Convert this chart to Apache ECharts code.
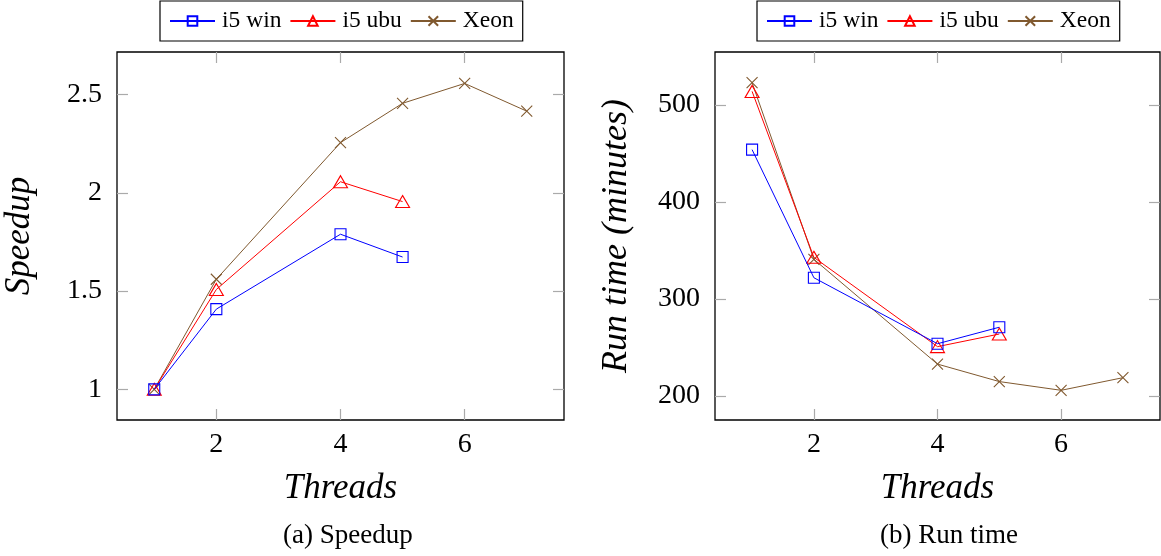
<!DOCTYPE html>
<html>
<head>
<meta charset="utf-8">
<script src="https://cdn.jsdelivr.net/npm/echarts@6/dist/echarts.min.js"></script>
<style>
html,body{margin:0;padding:0;background:#fff;}
#c{width:1161px;height:556px;}
</style>
</head>
<body>
<div id="c"></div>
<script>
var seriesNames = ['i5 win', 'i5 ubu', 'Xeon'];
var threadsI5 = [1, 2, 4, 5];
var threadsXeon = [1, 2, 4, 5, 6, 7];
var speedupI5win = [1.0, 1.408, 1.789, 1.673];
var speedupI5ubu = [1.0, 1.508, 2.056, 1.955];
var speedupXeon = [1.0, 1.56, 2.255, 2.455, 2.556, 2.415];
var runI5win = [454, 322, 254, 271];
var runI5ubu = [514, 343, 251, 264];
var runXeon = [523, 341, 233, 215, 206, 219];
var xTicks = [2, 4, 6];
var speedupTicks = [1, 1.5, 2, 2.5];
var runTicks = [200, 300, 400, 500];
var captions = ['(a) Speedup', '(b) Run time'];

var colors = ['#0000ff', '#ff0000', '#80592f'];
var symbols = ['rect', 'triangle', 'path://M0,0L10,10M10,0L0,10'];
var symSizes = [[11, 11], [14, 12], [11, 11]];
var FONT = '"Liberation Serif", "Times New Roman", serif';

function pairs(xs, ys) { return xs.map(function (x, i) { return [x, ys[i]]; }); }

function mkSeries(name, idx, axisIdx, data) {
  return {
    name: name, type: 'line', xAxisIndex: axisIdx * 2, yAxisIndex: axisIdx * 2,
    data: data, symbol: symbols[idx], symbolSize: symSizes[idx], showSymbol: true,
    lineStyle: { color: colors[idx], width: 1 },
    itemStyle: { color: 'rgba(0,0,0,0)', borderColor: colors[idx], borderWidth: 1.1 },
    emphasis: { disabled: true }, animation: false, z: 3 - idx
  };
}

function xAxes(gi) {
  var base = {
    gridIndex: gi, type: 'value', min: 0.4, max: 7.6,
    splitLine: { show: false }, axisLine: { show: false },
    axisTick: { inside: true, length: 11, lineStyle: { color: '#aaaaaa', width: 1.2 }, customValues: xTicks }
  };
  var bottom = Object.assign({}, base, {
    position: 'bottom', name: 'Threads', nameLocation: 'middle', nameGap: 51,
    nameTextStyle: { fontFamily: FONT, fontStyle: 'italic', fontSize: 35, color: '#000' },
    axisLabel: { customValues: xTicks, fontFamily: FONT, fontSize: 28, color: '#000', margin: 11 }
  });
  var top = Object.assign({}, base, { position: 'top', axisLabel: { show: false } });
  return [bottom, top];
}

function yAxes(gi, min, max, ticks, name, fs) {
  var base = {
    gridIndex: gi, type: 'value', min: min, max: max,
    splitLine: { show: false }, axisLine: { show: false },
    axisTick: { inside: true, length: 11, lineStyle: { color: '#aaaaaa', width: 1.2 }, customValues: ticks }
  };
  var left = Object.assign({}, base, {
    position: 'left', name: name, nameLocation: 'middle', nameGap: 80, nameRotate: 90,
    nameTextStyle: { fontFamily: FONT, fontStyle: 'italic', fontSize: fs, color: '#000' },
    axisLabel: { customValues: ticks, fontFamily: FONT, fontSize: 28, color: '#000', margin: 15 }
  });
  var right = Object.assign({}, base, { position: 'right', axisLabel: { show: false } });
  return [left, right];
}

function legend(left) {
  return {
    data: seriesNames, left: left, top: 1, orient: 'horizontal',
    itemWidth: 45, itemHeight: 12, itemGap: 8, padding: [8, 9, 8, 9],
    borderColor: '#000', borderWidth: 1.2, backgroundColor: '#fff',
    textStyle: { fontFamily: FONT, fontSize: 23.5, color: '#000', padding: [0, 0, 0, 2] },
    selectedMode: false
  };
}

var chart = echarts.init(document.getElementById('c'));
chart.setOption({
  backgroundColor: '#fff',
  animation: false,
  legend: [legend(160), legend(757)],
  grid: [
    { left: 117, top: 52, width: 447, height: 368, show: true, borderColor: '#000', borderWidth: 1.3, backgroundColor: 'transparent' },
    { left: 715, top: 52, width: 445, height: 368, show: true, borderColor: '#000', borderWidth: 1.3, backgroundColor: 'transparent' }
  ],
  xAxis: xAxes(0).concat(xAxes(1)),
  yAxis: yAxes(0, 0.844, 2.716, speedupTicks, 'Speedup', 35).concat(yAxes(1, 175.4, 554.6, runTicks, 'Run time (minutes)', 36)),
  series: [
    mkSeries(seriesNames[0], 0, 0, pairs(threadsI5, speedupI5win)),
    mkSeries(seriesNames[1], 1, 0, pairs(threadsI5, speedupI5ubu)),
    mkSeries(seriesNames[2], 2, 0, pairs(threadsXeon, speedupXeon)),
    mkSeries(seriesNames[0], 0, 1, pairs(threadsI5, runI5win)),
    mkSeries(seriesNames[1], 1, 1, pairs(threadsI5, runI5ubu)),
    mkSeries(seriesNames[2], 2, 1, pairs(threadsXeon, runXeon))
  ],
  graphic: [
    { type: 'text', left: 283, top: 522, style: { text: captions[0], fontFamily: FONT, fontSize: 27, fill: '#000', textAlign: 'center' } },
    { type: 'text', left: 880, top: 522, style: { text: captions[1], fontFamily: FONT, fontSize: 27, fill: '#000', textAlign: 'center' } }
  ]
});
</script>
</body>
</html>
